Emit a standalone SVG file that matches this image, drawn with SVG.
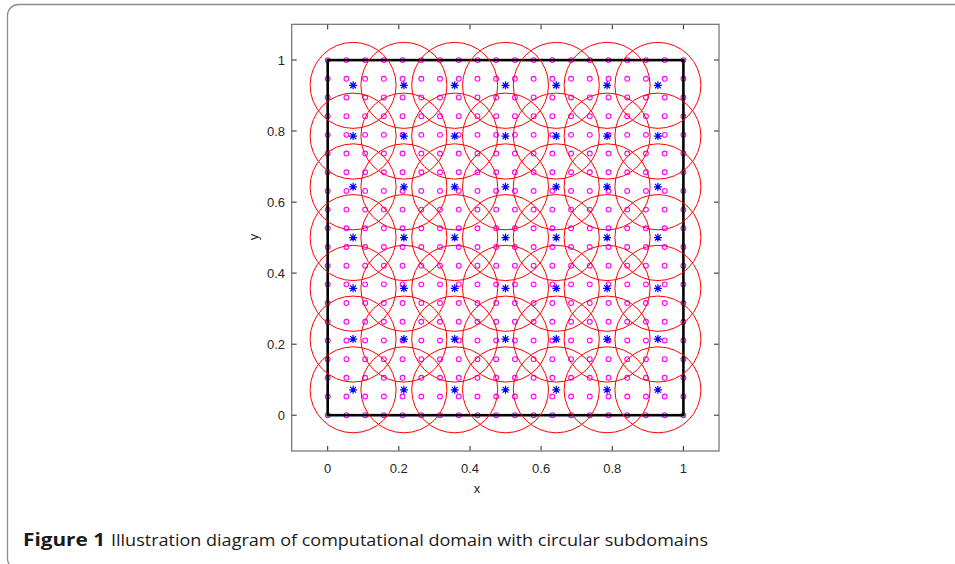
<svg xmlns="http://www.w3.org/2000/svg" xmlns:xlink="http://www.w3.org/1999/xlink" width="955" height="564" viewBox="0 0 955 564">
<style>
.frame{fill:none;stroke:#8c8c8c;stroke-width:1.3}
.ax{fill:none;stroke:#6e6e6e;stroke-width:1.2}
.tick{stroke:#262626;stroke-width:1}
.tl{font-family:"Liberation Sans",Arial,sans-serif;font-size:13px;fill:#262626}
.pt{fill:none;stroke:#ff00ff;stroke-width:1.1}
.st{fill:none;stroke:#0000ff;stroke-width:1.2}
.rc{fill:none;stroke:#ff0000;stroke-width:1}
.dom{fill:none;stroke:#000;stroke-width:2.6}
.cap{font-family:"Open Sans","Noto Sans",sans-serif;font-size:17px;fill:#1a1a1a}
</style>
<defs>
<g id="prow">
<circle class="pt" cx="327.7" cy="415.2" r="2.4"/><circle class="pt" cx="346.42" cy="415.2" r="2.4"/><circle class="pt" cx="365.14" cy="415.2" r="2.4"/><circle class="pt" cx="383.86" cy="415.2" r="2.4"/><circle class="pt" cx="402.58" cy="415.2" r="2.4"/><circle class="pt" cx="421.3" cy="415.2" r="2.4"/><circle class="pt" cx="440.02" cy="415.2" r="2.4"/><circle class="pt" cx="458.74" cy="415.2" r="2.4"/><circle class="pt" cx="477.46" cy="415.2" r="2.4"/><circle class="pt" cx="496.18" cy="415.2" r="2.4"/><circle class="pt" cx="514.9" cy="415.2" r="2.4"/><circle class="pt" cx="533.62" cy="415.2" r="2.4"/><circle class="pt" cx="552.34" cy="415.2" r="2.4"/><circle class="pt" cx="571.06" cy="415.2" r="2.4"/><circle class="pt" cx="589.78" cy="415.2" r="2.4"/><circle class="pt" cx="608.5" cy="415.2" r="2.4"/><circle class="pt" cx="627.22" cy="415.2" r="2.4"/><circle class="pt" cx="645.94" cy="415.2" r="2.4"/><circle class="pt" cx="664.66" cy="415.2" r="2.4"/><circle class="pt" cx="683.38" cy="415.2" r="2.4"/>
</g>
<path id="star" class="st" d="M-4,0H4M0,-4V4M-2.9,-2.9L2.9,2.9M-2.9,2.9L2.9,-2.9"/>
<g id="srow">
<use xlink:href="#star" x="353.1" y="389.8"/><use xlink:href="#star" x="403.9" y="389.8"/><use xlink:href="#star" x="454.7" y="389.8"/><use xlink:href="#star" x="505.5" y="389.8"/><use xlink:href="#star" x="556.3" y="389.8"/><use xlink:href="#star" x="607.1" y="389.8"/><use xlink:href="#star" x="657.9" y="389.8"/>
</g>
<g id="crow">
<circle class="rc" cx="353.1" cy="389.8" r="43"/><circle class="rc" cx="403.9" cy="389.8" r="43"/><circle class="rc" cx="454.7" cy="389.8" r="43"/><circle class="rc" cx="505.5" cy="389.8" r="43"/><circle class="rc" cx="556.3" cy="389.8" r="43"/><circle class="rc" cx="607.1" cy="389.8" r="43"/><circle class="rc" cx="657.9" cy="389.8" r="43"/>
</g>
</defs>
<rect class="frame" x="7.5" y="4.5" width="970" height="565" rx="11"/>
<g id="axes">
<rect x="291.7" y="24.3" width="427.3" height="426.7" fill="#fff"/>
<g class="tick">
<path d="M327.7,451V446M398.8,451V446M470,451V446M541.1,451V446M612.3,451V446M683.4,451V446"/>
<path d="M327.7,24.3V29.3M398.8,24.3V29.3M470,24.3V29.3M541.1,24.3V29.3M612.3,24.3V29.3M683.4,24.3V29.3"/>
<path d="M291.7,415.2H296.7M291.7,344.2H296.7M291.7,273.1H296.7M291.7,202.1H296.7M291.7,131H296.7M291.7,60H296.7"/>
<path d="M719,415.2H714M719,344.2H714M719,273.1H714M719,202.1H714M719,131H714M719,60H714"/>
</g>
<rect class="ax" x="291.7" y="24.3" width="427.3" height="426.7"/>
<g class="tl" text-anchor="middle">
<text x="327.7" y="472.5">0</text><text x="398.8" y="472.5">0.2</text><text x="470" y="472.5">0.4</text><text x="541.1" y="472.5">0.6</text><text x="612.3" y="472.5">0.8</text><text x="683.4" y="472.5">1</text>
<text x="477" y="493">x</text>
<text transform="translate(258,237) rotate(-90)">y</text>
</g>
<g class="tl" text-anchor="end">
<text x="285" y="419.9">0</text><text x="285" y="348.9">0.2</text><text x="285" y="277.8">0.4</text><text x="285" y="206.8">0.6</text><text x="285" y="135.7">0.8</text><text x="285" y="64.7">1</text>
</g>
</g>
<g id="points">
<use xlink:href="#prow"/><use xlink:href="#prow" y="-18.69"/><use xlink:href="#prow" y="-37.38"/><use xlink:href="#prow" y="-56.07"/><use xlink:href="#prow" y="-74.76"/><use xlink:href="#prow" y="-93.45"/><use xlink:href="#prow" y="-112.14"/><use xlink:href="#prow" y="-130.83"/><use xlink:href="#prow" y="-149.52"/><use xlink:href="#prow" y="-168.21"/><use xlink:href="#prow" y="-186.9"/><use xlink:href="#prow" y="-205.59"/><use xlink:href="#prow" y="-224.28"/><use xlink:href="#prow" y="-242.97"/><use xlink:href="#prow" y="-261.66"/><use xlink:href="#prow" y="-280.35"/><use xlink:href="#prow" y="-299.04"/><use xlink:href="#prow" y="-317.73"/><use xlink:href="#prow" y="-336.42"/><use xlink:href="#prow" y="-355.11"/>
</g>
<g id="domain">
<rect class="dom" x="327.7" y="60.1" width="355.7" height="355.1"/>
</g>
<g id="centers">
<use xlink:href="#srow"/><use xlink:href="#srow" y="-50.74"/><use xlink:href="#srow" y="-101.48"/><use xlink:href="#srow" y="-152.22"/><use xlink:href="#srow" y="-202.96"/><use xlink:href="#srow" y="-253.7"/><use xlink:href="#srow" y="-304.44"/>
</g>
<g id="subdomains">
<use xlink:href="#crow"/><use xlink:href="#crow" y="-50.74"/><use xlink:href="#crow" y="-101.48"/><use xlink:href="#crow" y="-152.22"/><use xlink:href="#crow" y="-202.96"/><use xlink:href="#crow" y="-253.7"/><use xlink:href="#crow" y="-304.44"/>
</g>
<g id="caption" class="cap">
<text x="23" y="545.5" font-weight="bold" textLength="82" lengthAdjust="spacingAndGlyphs">Figure 1</text>
<text x="111" y="545.5" textLength="597" lengthAdjust="spacingAndGlyphs">Illustration diagram of computational domain with circular subdomains</text>
</g>
</svg>
